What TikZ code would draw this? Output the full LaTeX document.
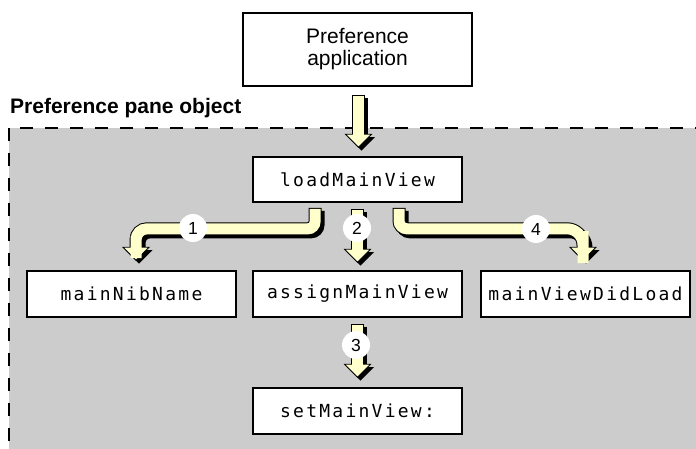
\documentclass[tikz,border=0pt]{standalone}
\usepackage{fontspec}
\setmainfont{Liberation Sans}
\newfontfamily\monof[LetterSpace=12.5]{DejaVu Sans Mono}
\usetikzlibrary{calc}
\definecolor{panegray}{HTML}{CCCCCC}
\definecolor{yel}{HTML}{FFFFCC}
% #1 shaft path (ending at head base), #2 head base coordinate
\newcommand\fatarrow[2]{%
  \begin{scope}[transform canvas={shift={(3pt,-3pt)}}]
    \draw[black, line width=13pt] #1;
    \fill[black] ($(#2)+(-13.5,0)$) -- ($(#2)+(13.5,0)$) -- ($(#2)+(0,13.5)$) -- cycle;
  \end{scope}
  \draw[black, line width=13pt] #1;
  \filldraw[fill=yel, draw=black, line width=0.8pt, line join=miter]
    ($(#2)+(-13,0)$) -- ($(#2)+(13,0)$) -- ($(#2)+(0,13)$) -- cycle;
  \draw[yel, line width=11pt, shorten <=1pt] #1 -- ($(#2)+(0,2)$);
}
\begin{document}
\begin{tikzpicture}[x=1pt,y=-1pt,
  box/.style={draw, line width=1.6pt, fill=white, minimum width=209pt,
    minimum height=45pt, inner sep=0pt, font=\monof\fontsize{18}{20}\selectfont},
  num/.style={circle, fill=white, minimum size=28pt, inner sep=0pt,
    font=\fontsize{17.5}{20}\selectfont},
  pane/.style={line width=2pt, dash pattern=on 13pt off 12pt}]
\useasboundingbox (0,0) rectangle (696,449);

% pane
\fill[panegray] (9,128) rectangle (696,449);
\draw[pane] (9,128) -- (9,449);
\draw[pane, dash phase=14pt] (9,128) -- (696,128);
\node[anchor=base west, inner sep=0pt, font=\bfseries\fontsize{21}{22}\selectfont]
  (title) at (10,114) {Preference pane object};

% boxes
\node[draw, line width=1.6pt, fill=white, minimum width=229pt, minimum height=73pt,
  inner sep=0pt, align=center, font=\fontsize{21}{22}\selectfont]
  (app) at (357.5,49.5) {Preference\\application};
\node[box] (load)   at (357.5,179.5) {loadMainView};
\node[box, minimum height=46pt] (nib)    at (131.5,294) {mainNibName};
\node[box, minimum height=46pt] (assign) at (357.5,294) {assignMainView};
\node[box, minimum height=46pt] (did)    at (585.5,294) {mainViewDidLoad};
\node[box, minimum height=46pt] (setv)   at (357.5,411) {setMainView:};

% coordinates for connectors
\coordinate (a0s) at ($(app.south)+(1,8)$);
\coordinate (a0h) at ($(load.north)+(1,-22)$);
\coordinate (a2s) at ($(load.south)+(0,6)$);
\coordinate (a2h) at ($(assign.north)+(0,-21)$);
\coordinate (a3s) at ($(assign.south)+(0,6)$);
\coordinate (a3h) at ($(setv.north)+(0,-23)$);
\coordinate (lvl) at ($(load.south)+(0,26)$);
\coordinate (a1s) at ($(load.south)+(-42.5,5)$);
\coordinate (a1h) at ($(nib.north)+(4.5,-23)$);
\coordinate (a4s) at ($(load.south)+(41.5,5)$);
\coordinate (a4h) at ($(did.north)+(-2.5,-23)$);

% arrows
\fatarrow{(a0s) -- (a0h)}{a0h}
\fatarrow{(a1s) [rounded corners=7pt] -- (a1s |- lvl) [rounded corners=11pt] -- (a1h |- lvl) -- (a1h)}{a1h}
\fatarrow{(a2s) -- (a2h)}{a2h}
\fatarrow{(a3s) -- (a3h)}{a3h}
\fatarrow{(a4s) [rounded corners=8pt] -- (a4s |- lvl) [rounded corners=16pt] -- (a4h |- lvl) -- (a4h)}{a4h}

% numbers
\node[num] (n1) at (193,228) {1};
\node[num] (n2) at (357,228) {2};
\node[num] (n3) at (356,345) {3};
\node[num] (n4) at (536,229) {4};
\end{tikzpicture}
\end{document}
